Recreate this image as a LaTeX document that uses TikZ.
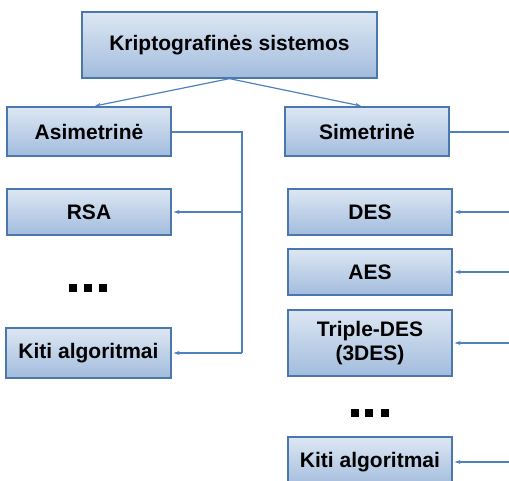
\documentclass[tikz,border=0pt]{standalone}
\usepackage{fontspec}
\setmainfont{Liberation Sans}
\usetikzlibrary{arrows.meta,calc}
\definecolor{boxtop}{HTML}{DDE7F3}
\definecolor{boxbot}{HTML}{A2BCDD}
\definecolor{boxline}{HTML}{4A77AD}
\definecolor{wire}{HTML}{4F81BD}
\tikzset{
  box/.style={draw=boxline, line width=1.3pt, top color=boxtop, bottom color=boxbot,
    inner sep=0pt, align=center, font=\fontsize{21}{24}\selectfont\bfseries},
  wirel/.style={draw=wire, line width=1.2pt},
  arr/.style={wirel, -{Stealth[length=6pt,width=4pt]}, shorten >=2pt},
  dot/.style={fill=black, minimum size=8pt, inner sep=0pt}
}
\begin{document}
\begin{tikzpicture}[x=1pt,y=-1pt]
\useasboundingbox (0,0) rectangle (509,481);
\clip (0,0) rectangle (509,481);
% root
\node[box, minimum width=295pt, minimum height=66pt] (root) at (229.5,45) {Kriptografinės sistemos};
% asymmetric branch
\node[box, minimum width=164pt, minimum height=49pt] (asim) at (89,131.5) {Asimetrinė};
\node[box, minimum width=164pt, minimum height=46pt] (rsa) at (89,212) {RSA};
\node[box, minimum width=165pt, minimum height=50pt] (kitil) at (88.5,353) {Kiti algoritmai};
% symmetric branch
\node[box, minimum width=164pt, minimum height=49pt] (sim) at (367,131.5) {Simetrinė};
\node[box, minimum width=164pt, minimum height=46pt] (des) at (370,212) {DES};
\node[box, minimum width=164pt, minimum height=46pt] (aes) at (370,272) {AES};
\node[box, minimum width=164pt, minimum height=66pt] (tdes) at (370,343) {Triple-DES\\(3DES)};
\node[box, minimum width=164pt, minimum height=50pt] (kitir) at (370,462) {Kiti algoritmai};
% ellipsis marks
\foreach \x in {73,88,103} \node[dot] at (\x,288) {};
\foreach \x in {355,369,385} \node[dot] at (\x,413) {};
% root to branches
\draw[arr] (root.south) -- ($(asim.north)+(4,0)$);
\draw[arr] (root.south) -- ($(sim.north)+(-4,0)$);
% left bus
\coordinate (lbus) at (242,132);
\coordinate (lbend) at (242,353);
\draw[wirel] (asim.east |- lbus) -- (lbus) -- (lbend);
\draw[arr] (lbus |- rsa.east) -- (rsa.east);
\draw[arr] (lbend) -- (kitil.east);
% right bus leaving the picture edge
\coordinate (rbus) at (509,132);
\draw[wirel] (sim.east |- rbus) -- (rbus);
\draw[arr] (rbus |- des.east) -- (des.east);
\draw[arr] (rbus |- aes.east) -- (aes.east);
\draw[arr] (rbus |- tdes.east) -- (tdes.east);
\draw[arr] (rbus |- kitir.east) -- (kitir.east);
\end{tikzpicture}
\end{document}
